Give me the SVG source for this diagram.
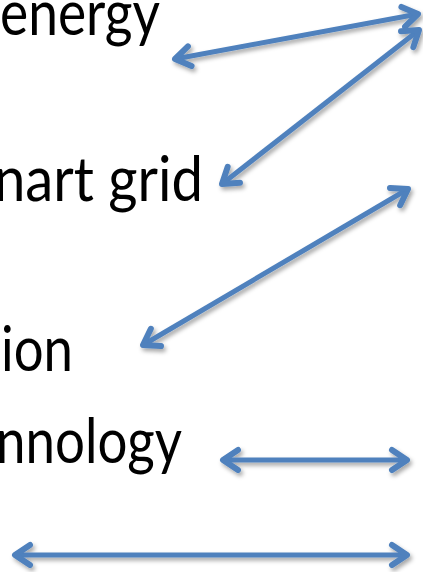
<svg xmlns="http://www.w3.org/2000/svg" width="423" height="572" viewBox="0 0 423 572">
<style>
.lbl{font-family:"Lato","Open Sans","Liberation Sans",sans-serif;font-size:61px;fill:#000}
.arr{fill:none;stroke:#4F81BD;stroke-width:5;marker-start:url(#head);marker-end:url(#head)}
</style>
<defs>
<marker id="head" markerUnits="userSpaceOnUse" viewBox="-25 -15 30 30" refX="0" refY="0" markerWidth="30" markerHeight="30" orient="auto-start-reverse" overflow="visible">
<path d="M -15 -10 L 0 0 L -15 10" fill="none" stroke="#4F81BD" stroke-width="6" stroke-linecap="round" stroke-linejoin="round"/>
</marker>
<filter id="sh" x="-20%" y="-20%" width="140%" height="160%">
<feDropShadow dx="2" dy="3" stdDeviation="2" flood-color="#000" flood-opacity="0.35"/>
</filter>
</defs>
<rect width="423" height="572" fill="#fff"/>
<g id="n-energy"><text class="lbl" x="0" y="35" textLength="160" lengthAdjust="spacingAndGlyphs">energy</text></g>
<g id="n-smartgrid"><text class="lbl" x="-6" y="201" textLength="209" lengthAdjust="spacingAndGlyphs">nart grid</text></g>
<g id="n-ion"><text class="lbl" x="1" y="371" textLength="72" lengthAdjust="spacingAndGlyphs">ion</text></g>
<g id="n-technology"><text class="lbl" x="-4" y="463" textLength="186" lengthAdjust="spacingAndGlyphs">nnology</text></g>
<g id="connectors" filter="url(#sh)">
<path class="arr" d="M 175 59 L 418 14"/>
<path class="arr" d="M 222 184 L 419 30"/>
<path class="arr" d="M 143 345 L 408 189"/>
<path class="arr" d="M 223 460 L 407 460"/>
<path class="arr" d="M 15 555 L 407 555"/>
</g>
</svg>
